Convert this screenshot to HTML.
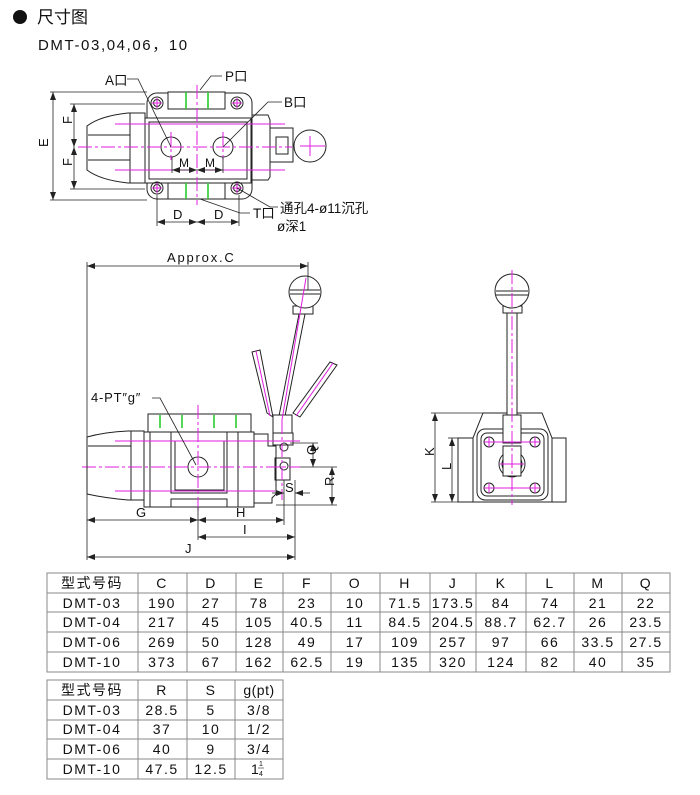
<!DOCTYPE html>
<html><head><meta charset="utf-8"><style>
html,body{margin:0;padding:0;background:#fff;}
svg{display:block;}
text{font-family:"Liberation Sans","Noto Sans CJK SC",sans-serif;fill:#111;}
.l{stroke:#222;stroke-width:1;fill:none;}
.w{stroke:#222;stroke-width:1;fill:#fff;}
.m{stroke:#e01ee0;stroke-width:1;fill:none;stroke-dasharray:14 3 3 3;}
.ms{stroke:#e01ee0;stroke-width:1;fill:none;}
.g{stroke:#1ec81e;stroke-width:1.5;}
.d{stroke:#222;stroke-width:0.8;fill:none;}
.tb{font-size:14px;letter-spacing:1.5px;text-anchor:middle;}
</style></head><body>
<svg width="700" height="795" viewBox="0 0 700 795" xmlns="http://www.w3.org/2000/svg">
<defs>
<marker id="a" markerWidth="8" markerHeight="6" refX="8" refY="3" orient="auto-start-reverse" markerUnits="userSpaceOnUse"><path d="M0,0 L8,3 L0,6 z" fill="#222"/></marker>
</defs>
<circle cx="20" cy="17" r="7" fill="#111"/>
<text x="37" y="23" style="font-size:17px">尺寸图</text>
<text x="38" y="50" style="font-size:15px;letter-spacing:1.6px">DMT-03,04,06，10</text>

<!-- TOP VIEW -->
<path class="w" d="M87,126 Q100,116 128,113 L145,113 L145,183 L128,183 Q100,180 87,170 Z"/>
<line class="l" x1="130" y1="113" x2="130" y2="183"/>
<line class="l" x1="88" y1="135" x2="130" y2="135"/>
<line class="l" x1="88" y1="160" x2="130" y2="160"/>
<rect class="w" x="147" y="93" width="105" height="106" rx="10"/>
<rect class="w" x="145" y="118" width="106" height="65"/>
<rect class="l" x="149" y="122" width="98" height="57"/>
<rect class="w" x="168" y="92" width="57" height="17"/>
<rect class="w" x="168" y="183" width="57" height="16"/>
<line class="g" x1="186" y1="92" x2="186" y2="109"/><line class="g" x1="208" y1="92" x2="208" y2="109"/>
<line class="g" x1="186" y1="183" x2="186" y2="199"/><line class="g" x1="208" y1="183" x2="208" y2="199"/>
<path class="w" d="M252,115 L268,115 L270,120 L270,177 L268,180 L252,180 Z"/>
<rect class="w" x="270" y="128" width="23" height="34"/>
<rect class="l" x="276" y="137" width="12" height="17"/>
<circle class="w" cx="310" cy="146" r="16"/>
<circle class="l" cx="171" cy="147" r="10"/><circle class="l" cx="223" cy="147" r="10"/>
<g class="l"><circle cx="157" cy="103" r="6"/><circle cx="157" cy="103" r="3.5"/><circle cx="237" cy="103" r="6"/><circle cx="237" cy="103" r="3.5"/><circle cx="157" cy="188" r="6"/><circle cx="157" cy="188" r="3.5"/><circle cx="237" cy="188" r="6"/><circle cx="237" cy="188" r="3.5"/></g>
<g class="ms"><line x1="152" y1="103" x2="162" y2="103"/><line x1="157" y1="98" x2="157" y2="108"/><line x1="232" y1="103" x2="242" y2="103"/><line x1="237" y1="98" x2="237" y2="108"/><line x1="152" y1="188" x2="162" y2="188"/><line x1="157" y1="183" x2="157" y2="193"/><line x1="232" y1="188" x2="242" y2="188"/><line x1="237" y1="183" x2="237" y2="193"/><line x1="300" y1="146" x2="325" y2="146"/><line x1="310" y1="136" x2="310" y2="156"/></g>
<line class="m" x1="78" y1="147" x2="292" y2="147"/>
<line class="m" x1="197" y1="85" x2="197" y2="205"/>
<line class="m" x1="171" y1="132" x2="171" y2="160"/>
<line class="m" x1="223" y1="132" x2="223" y2="160"/>
<line class="ms" x1="115" y1="124" x2="285" y2="124"/>
<line class="ms" x1="115" y1="170" x2="285" y2="170"/>
<g class="d">
<line x1="50" y1="92" x2="147" y2="92"/><line x1="50" y1="200" x2="147" y2="200"/>
<line x1="53" y1="92" x2="53" y2="200" marker-start="url(#a)" marker-end="url(#a)"/>
<line x1="70" y1="104" x2="145" y2="104"/><line x1="70" y1="189" x2="145" y2="189"/>
<line x1="74" y1="104" x2="74" y2="147" marker-start="url(#a)" marker-end="url(#a)"/>
<line x1="74" y1="147" x2="74" y2="189" marker-start="url(#a)" marker-end="url(#a)"/>
<line x1="157" y1="195" x2="157" y2="226"/><line x1="239" y1="195" x2="239" y2="226"/>
<line x1="157" y1="222" x2="197" y2="222" marker-start="url(#a)" marker-end="url(#a)"/>
<line x1="197" y1="222" x2="239" y2="222" marker-start="url(#a)" marker-end="url(#a)"/>
<line x1="172" y1="157" x2="172" y2="173"/><line x1="223" y1="157" x2="223" y2="173"/>
<line x1="172" y1="170" x2="197" y2="170" marker-start="url(#a)" marker-end="url(#a)"/>
<line x1="197" y1="170" x2="223" y2="170" marker-start="url(#a)" marker-end="url(#a)"/>
<polyline points="127,79 138,79 171,147"/>
<polyline points="222,76 211,76 200,90"/>
<polyline points="282,102 268,102 223,147"/>
<polyline points="250,213 240,213 200,199"/>
<polyline points="278,207 270,207 237,188"/>
</g>
<g style="font-size:13px">
<text x="44" y="151" transform="rotate(-90 44 147)">E</text>
<text x="70" y="130" transform="rotate(-90 68 126)">F</text>
<text x="70" y="172" transform="rotate(-90 68 168)">F</text>
<text x="179" y="167" style="font-size:12px">M</text><text x="205" y="167" style="font-size:12px">M</text>
<text x="173" y="219">D</text><text x="214" y="219">D</text>
</g>
<g style="font-size:13.5px">
<text x="105" y="85">A口</text><text x="225" y="81">P口</text><text x="284" y="107">B口</text>
<text x="253" y="218">T口</text><text x="280" y="213">通孔4-ø11沉孔</text><text x="277" y="231">ø深1</text>
</g>

<!-- SIDE VIEW -->
<path class="w" d="M87,437 Q105,432 128,431 L144,431 L144,500 L128,500 Q105,498 87,494 Z"/>
<line class="l" x1="131" y1="431" x2="131" y2="500"/>
<line class="l" x1="88" y1="446" x2="131" y2="446"/>
<rect class="w" x="148" y="414" width="103" height="18"/>
<rect class="w" x="144" y="432" width="110" height="75"/>
<line class="l" x1="150" y1="432" x2="150" y2="507"/>
<line class="l" x1="238" y1="432" x2="238" y2="507"/>
<path class="l" d="M171,432 L171,493 L227,493 L227,432"/>
<path class="l" d="M175,441 L224,441 L224,490 L175,490 Z"/>
<path class="l" d="M171,507 L171,499 L227,499 L227,507"/>
<line class="g" x1="160" y1="415" x2="160" y2="428"/><line class="g" x1="182" y1="415" x2="182" y2="428"/><line class="g" x1="214" y1="415" x2="214" y2="428"/><line class="g" x1="236" y1="415" x2="236" y2="428"/>
<circle class="l" cx="198" cy="467" r="10"/>
<path class="w" d="M254,434 L268,434 L268,446 L276,446 L276,494 L272,498 L272,503 L254,503 Z"/>
<rect class="w" x="273" y="433" width="20" height="12"/>
<rect class="l" x="275" y="458" width="15" height="22"/>
<circle class="l" cx="284" cy="447" r="4"/><circle class="l" cx="284" cy="466" r="4"/>
<path class="w" d="M252,352 L260,350 L273,417 L267,413 Z"/>
<path class="w" d="M330,362 L337,365 L300,417 L293,413 Z"/>
<path class="w" d="M299,314 L305,314 L285,416 L279,416 Z"/>
<rect class="w" x="293" y="306" width="20" height="8"/>
<circle class="w" cx="305" cy="292" r="16"/>
<line class="l" x1="290" y1="290" x2="320" y2="290"/><line class="l" x1="290" y1="294" x2="320" y2="294"/>
<rect class="w" x="273" y="415" width="19" height="18"/>
<g class="ms"><line x1="256" y1="351" x2="270" y2="416"/><line x1="333" y1="363" x2="296" y2="416"/><line x1="306" y1="278" x2="282" y2="420"/></g>
<line class="m" x1="282" y1="420" x2="282" y2="500"/>
<line class="m" x1="198" y1="405" x2="198" y2="515"/>
<line class="m" x1="82" y1="467" x2="300" y2="467"/>
<line class="ms" x1="115" y1="441" x2="300" y2="441"/>
<line class="ms" x1="115" y1="491" x2="275" y2="491"/>
<g class="d">
<line x1="87" y1="262" x2="87" y2="560"/><line x1="308" y1="262" x2="308" y2="290"/>
<line x1="87" y1="266" x2="308" y2="266" marker-start="url(#a)" marker-end="url(#a)"/>
<polyline points="152,398 160,398 196,465"/>
<line x1="290" y1="443" x2="318" y2="443"/><line x1="300" y1="467" x2="337" y2="467"/><line x1="276" y1="505" x2="337" y2="505"/>
<line x1="313" y1="443" x2="313" y2="467" marker-start="url(#a)" marker-end="url(#a)"/>
<line x1="332" y1="467" x2="332" y2="505" marker-start="url(#a)" marker-end="url(#a)"/>
<line x1="284" y1="480" x2="284" y2="525"/><line x1="295" y1="480" x2="295" y2="560"/>
<line x1="272" y1="493" x2="284" y2="493" marker-end="url(#a)"/><line x1="310" y1="493" x2="295" y2="493" marker-end="url(#a)"/>
<line x1="198" y1="507" x2="198" y2="540"/>
<line x1="87" y1="520" x2="198" y2="520" marker-start="url(#a)" marker-end="url(#a)"/>
<line x1="198" y1="520" x2="284" y2="520" marker-start="url(#a)" marker-end="url(#a)"/>
<line x1="198" y1="537" x2="295" y2="537" marker-start="url(#a)" marker-end="url(#a)"/>
<line x1="87" y1="557" x2="295" y2="557" marker-start="url(#a)" marker-end="url(#a)"/>
</g>
<g style="font-size:13px">
<text x="167" y="262" style="letter-spacing:1.8px">Approx.C</text>
<text x="91" y="402" style="letter-spacing:0.8px">4-PT″g″</text>
<text x="312" y="459" transform="rotate(-90 312 455)">Q</text>
<text x="330" y="490" transform="rotate(-90 330 486)">R</text>
<text x="285" y="492">S</text>
<text x="136" y="517">G</text><text x="236" y="517">H</text><text x="243" y="534">I</text><text x="185" y="553">J</text>
</g>

<!-- FRONT VIEW -->
<rect class="w" x="458" y="438" width="108" height="64"/>
<path class="w" d="M483,413 L542,413 L552,438 L552,502 L473,502 L473,438 Z"/>
<rect class="w" x="477" y="429" width="71" height="71" rx="8"/>
<rect class="l" x="481" y="433" width="63" height="63" rx="6"/>
<circle class="l" cx="512" cy="464" r="13"/><circle class="l" cx="512" cy="464" r="10"/>
<rect class="w" x="503" y="446" width="18" height="30"/>
<g class="l"><circle cx="489" cy="442" r="5"/><circle cx="535" cy="442" r="5"/><circle cx="489" cy="488" r="5"/><circle cx="535" cy="488" r="5"/></g>
<rect class="w" x="503" y="415" width="18" height="28"/>
<rect class="w" x="507" y="312" width="10" height="103"/>
<rect class="w" x="503" y="306" width="19" height="7"/>
<circle class="w" cx="512" cy="291" r="17"/>
<line class="l" x1="496" y1="291" x2="528" y2="291"/><line class="l" x1="496" y1="295" x2="528" y2="295"/>
<line class="m" x1="512" y1="270" x2="512" y2="505"/>
<g class="ms"><line x1="484" y1="442" x2="540" y2="442"/><line x1="489" y1="437" x2="489" y2="447"/><line x1="535" y1="437" x2="535" y2="447"/><line x1="484" y1="488" x2="540" y2="488"/><line x1="489" y1="483" x2="489" y2="493"/><line x1="535" y1="483" x2="535" y2="493"/><line x1="500" y1="464" x2="524" y2="464"/></g>
<g class="d">
<line x1="431" y1="413" x2="483" y2="413"/><line x1="448" y1="438" x2="458" y2="438"/><line x1="431" y1="502" x2="458" y2="502"/>
<line x1="435" y1="413" x2="435" y2="502" marker-start="url(#a)" marker-end="url(#a)"/>
<line x1="452" y1="438" x2="452" y2="502" marker-start="url(#a)" marker-end="url(#a)"/>
</g>
<text x="432" y="462" transform="rotate(-90 430 458)" style="font-size:13px">K</text>
<text x="449" y="476" transform="rotate(-90 447 472)" style="font-size:13px">L</text>

<!-- TABLE 1 -->
<g class="l" style="stroke:#888">
<rect x="47" y="573" width="623" height="99"/>
<line x1="47" y1="593" x2="670" y2="593"/><line x1="47" y1="612" x2="670" y2="612"/><line x1="47" y1="632" x2="670" y2="632"/><line x1="47" y1="652" x2="670" y2="652"/>
<line x1="138" y1="573" x2="138" y2="672"/><line x1="187" y1="573" x2="187" y2="672"/><line x1="236" y1="573" x2="236" y2="672"/><line x1="283" y1="573" x2="283" y2="672"/><line x1="331" y1="573" x2="331" y2="672"/><line x1="380" y1="573" x2="380" y2="672"/><line x1="430" y1="573" x2="430" y2="672"/><line x1="476" y1="573" x2="476" y2="672"/><line x1="526" y1="573" x2="526" y2="672"/><line x1="574" y1="573" x2="574" y2="672"/><line x1="622" y1="573" x2="622" y2="672"/>
</g>
<g class="tb">
<text x="92" y="588">型式号码</text><text x="162" y="588">C</text><text x="211" y="588">D</text><text x="259" y="588">E</text><text x="307" y="588">F</text><text x="355" y="588">O</text><text x="405" y="588">H</text><text x="453" y="588">J</text><text x="501" y="588">K</text><text x="550" y="588">L</text><text x="598" y="588">M</text><text x="646" y="588">Q</text>
<text x="92" y="608">DMT-03</text><text x="162" y="608">190</text><text x="211" y="608">27</text><text x="259" y="608">78</text><text x="307" y="608">23</text><text x="355" y="608">10</text><text x="405" y="608">71.5</text><text x="453" y="608">173.5</text><text x="501" y="608">84</text><text x="550" y="608">74</text><text x="598" y="608">21</text><text x="646" y="608">22</text>
<text x="92" y="627">DMT-04</text><text x="162" y="627">217</text><text x="211" y="627">45</text><text x="259" y="627">105</text><text x="307" y="627">40.5</text><text x="355" y="627">11</text><text x="405" y="627">84.5</text><text x="453" y="627">204.5</text><text x="501" y="627">88.7</text><text x="550" y="627">62.7</text><text x="598" y="627">26</text><text x="646" y="627">23.5</text>
<text x="92" y="647">DMT-06</text><text x="162" y="647">269</text><text x="211" y="647">50</text><text x="259" y="647">128</text><text x="307" y="647">49</text><text x="355" y="647">17</text><text x="405" y="647">109</text><text x="453" y="647">257</text><text x="501" y="647">97</text><text x="550" y="647">66</text><text x="598" y="647">33.5</text><text x="646" y="647">27.5</text>
<text x="92" y="667">DMT-10</text><text x="162" y="667">373</text><text x="211" y="667">67</text><text x="259" y="667">162</text><text x="307" y="667">62.5</text><text x="355" y="667">19</text><text x="405" y="667">135</text><text x="453" y="667">320</text><text x="501" y="667">124</text><text x="550" y="667">82</text><text x="598" y="667">40</text><text x="646" y="667">35</text>
</g>

<!-- TABLE 2 -->
<g class="l" style="stroke:#888">
<rect x="47" y="680" width="236" height="99"/>
<line x1="47" y1="700" x2="283" y2="700"/><line x1="47" y1="720" x2="283" y2="720"/><line x1="47" y1="739" x2="283" y2="739"/><line x1="47" y1="759" x2="283" y2="759"/>
<line x1="138" y1="680" x2="138" y2="779"/><line x1="187" y1="680" x2="187" y2="779"/><line x1="235" y1="680" x2="235" y2="779"/>
</g>
<g class="tb">
<text x="92" y="695">型式号码</text><text x="162" y="695">R</text><text x="211" y="695">S</text><text x="259" y="695" style="letter-spacing:0.5px">g(pt)</text>
<text x="92" y="715">DMT-03</text><text x="162" y="715">28.5</text><text x="211" y="715">5</text><text x="259" y="715">3/8</text>
<text x="92" y="734">DMT-04</text><text x="162" y="734">37</text><text x="211" y="734">10</text><text x="259" y="734">1/2</text>
<text x="92" y="754">DMT-06</text><text x="162" y="754">40</text><text x="211" y="754">9</text><text x="259" y="754">3/4</text>
<text x="92" y="774">DMT-10</text><text x="162" y="774">47.5</text><text x="211" y="774">12.5</text>
</g>
<text x="251" y="774" style="font-size:14px">1</text>
<text x="259" y="766" style="font-size:7px">1</text>
<line x1="258" y1="768" x2="264" y2="768" stroke="#222" stroke-width="0.6"/>
<text x="259" y="776" style="font-size:7px">4</text>
</svg>
</body></html>
